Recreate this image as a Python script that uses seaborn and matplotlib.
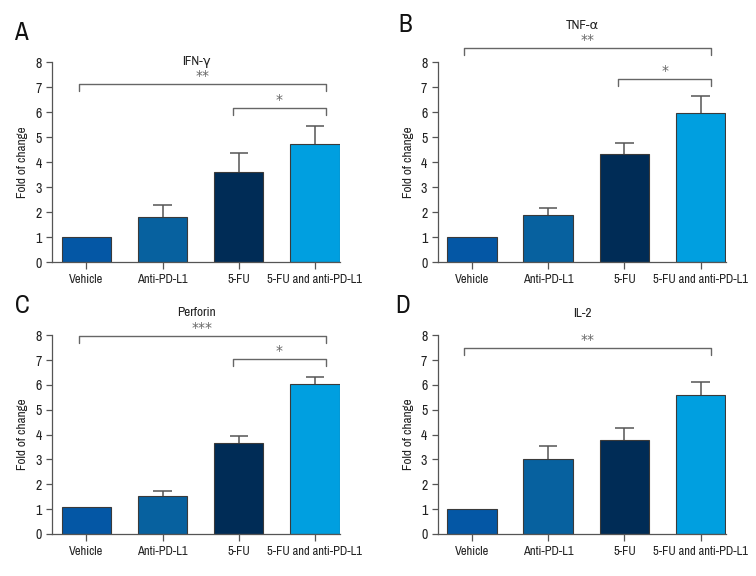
import matplotlib
matplotlib.use("Agg")
import matplotlib.pyplot as plt
from matplotlib import font_manager
import seaborn as sns
import pandas as pd

groups = ["Vehicle", "Anti-PD-L1", "5-FU", "5-FU and anti-PD-L1"]
bar_colors = ["#0457a5", "#07619f", "#002c56", "#009fe0"]

ifn_mean = [1.0, 1.8, 3.6, 4.72]
ifn_top = [1.0, 2.3, 4.35, 5.43]
tnf_mean = [1.0, 1.9, 4.33, 5.95]
tnf_top = [1.0, 2.15, 4.75, 6.63]
prf_mean = [1.08, 1.53, 3.67, 6.02]
prf_top = [1.08, 1.72, 3.93, 6.3]
il2_mean = [1.0, 3.03, 3.8, 5.58]
il2_top = [1.0, 3.55, 4.25, 6.12]

# brackets: (left idx, right idx, y, label)
ifn_sig = [(0, 3, 7.12, "**"), (2, 3, 6.16, "*")]
tnf_sig = [(0, 3, 8.56, "**"), (2, 3, 7.32, "*")]
prf_sig = [(0, 3, 7.95, "***"), (2, 3, 7.03, "*")]
il2_sig = [(0, 3, 7.47, "**")]

sns.set_style("ticks")

# pick a narrow font if one is around
narrow = None
stretch = "normal"
for f in font_manager.fontManager.ttflist:
    if f.style != "normal" or f.weight not in (400, "normal", "regular"):
        continue
    if "Narrow" in f.name or "Condensed" in f.name:
        narrow = f.name
        break
if narrow is None:
    for f in font_manager.fontManager.ttflist:
        if f.style == "normal" and f.weight in (400, "normal", "regular") \
                and f.stretch in ("condensed", "semi-condensed", 75, 87):
            narrow = f.name
            stretch = f.stretch
            break
if narrow is None:
    narrow = "Liberation Sans"
plt.rcParams['font.family'] = [narrow, 'DejaVu Sans']
plt.rcParams['font.stretch'] = stretch

fig = plt.figure(figsize=(7.56, 5.76), dpi=100)

panels = [
    ("A", "IFN-γ", ifn_mean, ifn_top, ifn_sig, [0.0688, 0.545, 0.381, 0.347], 8.0, (0.027, 0.943)),
    ("B", "TNF-α", tnf_mean, tnf_top, tnf_sig, [0.579, 0.545, 0.381, 0.347], 9.48, (0.536, 0.957)),
    ("C", "Perforin", prf_mean, prf_top, prf_sig, [0.0688, 0.073, 0.381, 0.345], 8.9, (0.029, 0.470)),
    ("D", "IL-2", il2_mean, il2_top, il2_sig, [0.579, 0.073, 0.381, 0.345], 8.87, (0.533, 0.470)),
]

for letter, title, means, tops, sigs, pos, title_y, letter_xy in panels:
    ax = fig.add_axes(pos)
    df = pd.DataFrame({"group": groups, "value": means})
    sns.barplot(data=df, x="group", y="value", hue="group", palette=bar_colors,
                legend=False, width=0.65, saturation=1, edgecolor="#3a3a3a",
                linewidth=0.8, ax=ax, zorder=2)
    # upper-only error bars, drawn behind the bars
    for i, (m, t) in enumerate(zip(means, tops)):
        if t > m:
            ax.vlines(i, m, t, color="#555555", lw=1.1, zorder=1)
            ax.hlines(t, i - 0.12, i + 0.12, color="#555555", lw=1.1, zorder=1)
    ax.set_xlim(-0.45, 3.33)
    ax.set_ylim(0, 8)
    ax.set_yticks(range(0, 9))
    ax.set_xlabel("")
    ax.set_ylabel("Fold of change", fontsize=9.5, color="#222222", labelpad=5)
    ax.tick_params(axis="both", labelsize=9.5, colors="#222222", length=4,
                   width=0.9)
    ax.tick_params(axis="x", length=5, color="#555555", labelsize=9)
    ax.tick_params(axis="y", color="#555555", labelsize=10)
    for s in ["left", "bottom"]:
        ax.spines[s].set_color("#555555")
        ax.spines[s].set_linewidth(0.9)
    sns.despine(ax=ax)
    ax.text(1.45, title_y, title, ha="center", va="center", fontsize=9.5,
            color="#222222", clip_on=False)
    for li, ri, y, lab in sigs:
        x0 = li - 0.1 if li == 0 else li - 0.08
        x1 = ri + 0.14
        ax.plot([x0, x0, x1, x1], [y - 0.28, y, y, y - 0.28], color="#666666",
                lw=1.0, clip_on=False)
        ax.text((x0 + x1) / 2, y + 0.05, lab, ha="center", va="bottom",
                fontsize=10, color="#666666", clip_on=False,
                family="DejaVu Sans")
    fig.text(letter_xy[0], letter_xy[1], letter, fontsize=18, ha="center",
             va="center", color="#111111")

fig.savefig("out.png", dpi=100)
